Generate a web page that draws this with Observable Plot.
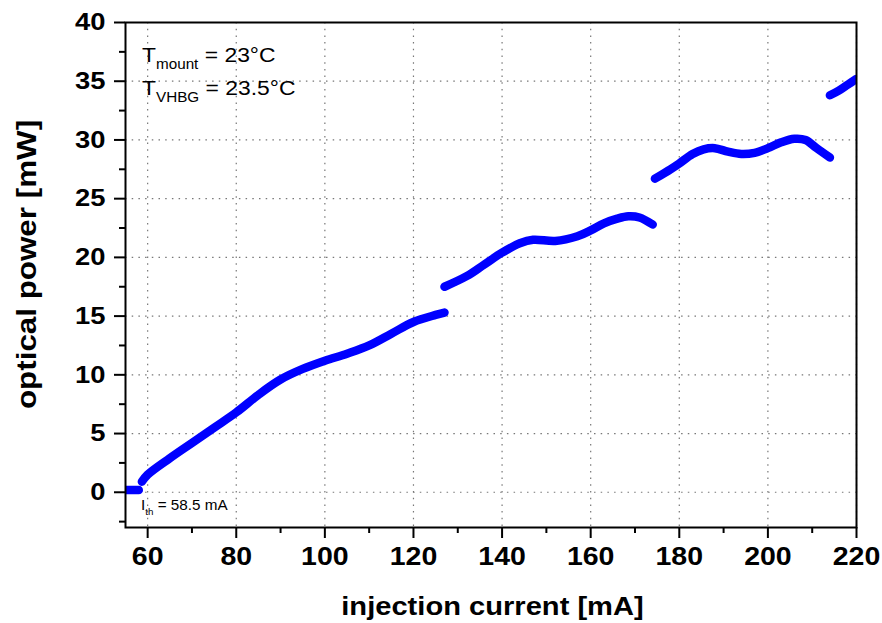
<!DOCTYPE html>
<html><head><meta charset="utf-8">
<script src="https://cdn.jsdelivr.net/npm/d3@7"></script>
<script src="https://cdn.jsdelivr.net/npm/@observablehq/plot@0.6"></script>
<style>
body{margin:0;background:#fff;}
#chart{font-family:"Liberation Sans",Arial,sans-serif;}
</style></head>
<body><div id="chart"></div>
<script>
// Data
const seg0X = [55, 58.0];
const seg0Y = [0.2, 0.2];
const seg1X = [58.7, 60, 65, 70, 75, 80, 85, 90, 95, 100, 105, 110, 115, 120, 125, 127];
const seg1Y = [0.9, 1.5, 2.9, 4.2, 5.5, 6.8, 8.3, 9.6, 10.5, 11.2, 11.8, 12.5, 13.5, 14.5, 15.1, 15.3];
const seg2X = [127, 132, 136, 140, 144, 147, 152, 157, 160, 163, 166, 168.5, 171, 174];
const seg2Y = [17.5, 18.4, 19.4, 20.4, 21.2, 21.5, 21.4, 21.8, 22.3, 22.9, 23.3, 23.5, 23.4, 22.8];
const seg3X = [174.5, 178, 180, 183, 185.5, 188, 191, 194, 197, 200, 203, 206, 208.5, 211, 214];
const seg3Y = [26.7, 27.5, 28.0, 28.8, 29.2, 29.3, 29.0, 28.8, 28.9, 29.3, 29.8, 30.1, 30.0, 29.3, 28.5];
const seg4X = [214, 216, 218, 220];
const seg4Y = [33.8, 34.2, 34.7, 35.2];

const xTicks = [60, 80, 100, 120, 140, 160, 180, 200, 220];
const xMinor = [70, 90, 110, 130, 150, 170, 190, 210];
const yTicks = [0, 5, 10, 15, 20, 25, 30, 35, 40];
const yMinor = [-2.5, 2.5, 7.5, 12.5, 17.5, 22.5, 27.5, 32.5, 37.5];
const xLabel = "injection current [mA]";
const yLabel = "optical power [mW]";

const segs = [[seg0X, seg0Y], [seg1X, seg1Y], [seg2X, seg2Y], [seg3X, seg3Y], [seg4X, seg4Y]];
const rows = [];
segs.forEach(([xs, ys], s) => xs.forEach((x, i) => rows.push({seg: s, x, y: ys[i]})));

const W = 882, H = 623;
const plot = Plot.plot({
  width: W, height: H,
  marginLeft: 125, marginRight: 26, marginTop: 22, marginBottom: 96,
  style: {fontFamily: '"Liberation Sans", Arial, sans-serif', background: "#fff", color: "#000"},
  x: {domain: [55, 220]},
  y: {domain: [-3, 40]},
  marks: [
    Plot.gridX(xTicks, {stroke: "#777", strokeOpacity: 1, strokeDasharray: "1.5,5.2", strokeWidth: 1.2}),
    Plot.gridY(yTicks, {stroke: "#777", strokeOpacity: 1, strokeDasharray: "1.5,5.2", strokeWidth: 1.2}),
    Plot.line(rows, {x: "x", y: "y", z: "seg", stroke: "#0000ff", strokeWidth: 8.5, strokeLinecap: "round", strokeLinejoin: "round", curve: "catmull-rom", clip: true}),
    Plot.axisX(xTicks, {tickSize: 11, tickPadding: 9, strokeWidth: 2, fontSize: 25, fontWeight: "bold", label: null}),
    Plot.axisX(xMinor, {tickSize: 6, strokeWidth: 2, tickFormat: () => "", label: null}),
    Plot.axisY(yTicks, {tickSize: 11, tickPadding: 9, strokeWidth: 2, fontSize: 24, fontWeight: "bold", label: null}),
    Plot.axisY(yMinor, {tickSize: 6, strokeWidth: 2, tickFormat: () => "", label: null}),
    Plot.frame({stroke: "#000", strokeWidth: 2})
  ]
});
document.getElementById("chart").appendChild(plot);

// horizontally stretch tick labels like the reference's font
plot.querySelectorAll('g[aria-label$="tick label"] text').forEach(t => {
  const len = t.getComputedTextLength();
  if (len > 0) { t.setAttribute("textLength", len * 1.14); t.setAttribute("lengthAdjust", "spacingAndGlyphs"); }
});

const svg = d3.select(plot);
const sx = plot.scale("x"), sy = plot.scale("y");
const font = '"Liberation Sans", Arial, sans-serif';
// Axis titles
svg.append("text")
  .attr("transform", `translate(${(sx.apply(55) + sx.apply(220)) / 2 + 2},615) scale(1.12,1)`)
  .attr("text-anchor", "middle").attr("font-family", font).attr("font-size", 26).attr("font-weight", "bold").text(xLabel);
svg.append("text").attr("transform", `translate(36,${(sy.apply(-3) + sy.apply(40)) / 2 - 10}) rotate(-90) scale(1.12,1)`)
  .attr("text-anchor", "middle").attr("font-family", font).attr("font-size", 28).attr("font-weight", "bold").text(yLabel);

// Annotations with subscripts
function annot(x, y, main, sub, rest, size, subSize, sub_dy) {
  const t = svg.append("text").attr("transform", `translate(${x},${y}) scale(1.09,1)`)
    .attr("text-anchor", "start").attr("font-family", font).attr("font-size", size);
  t.append("tspan").text(main);
  t.append("tspan").attr("font-size", subSize).attr("dy", sub_dy).text(sub);
  t.append("tspan").attr("dy", -sub_dy).text(rest);
}
annot(142, 62, "T", "mount", " = 23°C", 21, 14, 7);
annot(142, 95, "T", "VHBG", " = 23.5°C", 21, 14, 7);
annot(141, 510, "I", "th", " = 58.5 mA", 14, 9, 5);
</script></body></html>
